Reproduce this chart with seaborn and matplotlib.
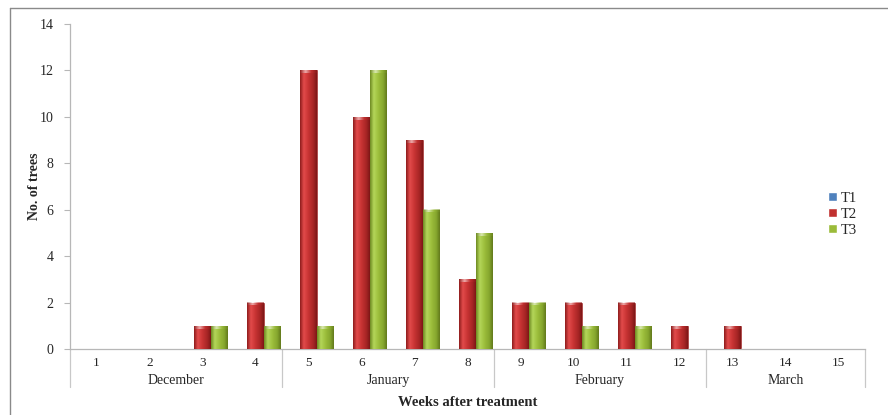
import numpy as np
import pandas as pd
import matplotlib
matplotlib.use("Agg")
import matplotlib.pyplot as plt
import seaborn as sns
from matplotlib.colors import LinearSegmentedColormap
from matplotlib.lines import Line2D
from matplotlib.transforms import blended_transform_factory

# Number of trees per week after treatment
weeks = [str(w) for w in range(1, 16)]
t1 = [0, 0, 0, 0, 0, 0, 0, 0, 0, 0, 0, 0, 0, 0, 0]
t2 = [0, 0, 1, 2, 12, 10, 9, 3, 2, 2, 2, 1, 1, 0, 0]
t3 = [0, 0, 1, 1, 1, 12, 6, 5, 2, 1, 1, 0, 0, 0, 0]
treatments = ["T1", "T2", "T3"]
months = ["December", "January", "February", "March"]
month_spans = [(1, 4), (5, 8), (9, 12), (13, 15)]

palette = {"T1": "#4F81BD", "T2": "#C0302F", "T3": "#9BBB3A"}
shades = {
    "T2": ["#8E1C1C", "#E24B4B", "#C83333", "#A52525", "#7E1616"],
    "T3": ["#6E8A22", "#B4D65A", "#9DBE3C", "#84A52D", "#62791C"],
    "T1": ["#2F5A8E", "#7AA6DA", "#4F81BD", "#3E6EA8", "#2A5080"],
}

df = pd.DataFrame({
    "week": weeks * 3,
    "count": t1 + t2 + t3,
    "treatment": ["T1"] * 15 + ["T2"] * 15 + ["T3"] * 15,
})

sns.set_style("white")
plt.rcParams["font.family"] = ["Liberation Serif", "DejaVu Serif"]

fig = plt.figure(figsize=(8.88, 4.15), dpi=100)
ax = fig.add_axes([70 / 888, 66 / 415, 795 / 888, 325 / 415])

sns.barplot(data=df, x="week", y="count", hue="treatment", order=weeks,
            hue_order=treatments, palette=palette, width=0.92, gap=0,
            saturation=1, errorbar=None, legend=True, ax=ax, zorder=2)

ax.set_xlim(-0.5, 14.5)
ax.set_ylim(0, 14)
ax.set_autoscale_on(False)

# cylinder-like shading on every bar
for container, name in zip(ax.containers, treatments):
    cmap = LinearSegmentedColormap.from_list(
        name, list(zip([0.0, 0.22, 0.5, 0.8, 1.0], shades[name])))
    grad = np.linspace(0, 1, 64).reshape(1, -1)
    for bar in container:
        h = bar.get_height()
        if h <= 0:
            continue
        x0, w = bar.get_x(), bar.get_width()
        bar.set_edgecolor(shades[name][0])
        bar.set_linewidth(0.4)
        im = ax.imshow(grad, cmap=cmap, aspect="auto", extent=(x0, x0 + w, 0, h),
                       origin="lower", zorder=3, interpolation="bilinear")
        im.set_clip_path(bar)
        cap = 0.12
        ax.imshow(np.linspace(0, 1, 64).reshape(1, -1),
                  cmap=LinearSegmentedColormap.from_list(
                      name + "c", [shades[name][0], "#FFFFFF", shades[name][2], shades[name][0]]),
                  aspect="auto", extent=(x0, x0 + w, h - cap, h), origin="lower",
                  zorder=4, alpha=0.55, interpolation="bilinear")

# axes styling
for side in ("top", "right"):
    ax.spines[side].set_visible(False)
for side in ("left", "bottom"):
    ax.spines[side].set_color("#B7B7B7")
    ax.spines[side].set_linewidth(0.9)
ax.set_yticks(range(0, 15, 2))
ax.tick_params(axis="y", direction="out", length=4, color="#B7B7B7",
               labelsize=10, pad=8, left=True)
ax.tick_params(axis="x", length=0, labelsize=9.5, pad=6)
ax.set_xticks(range(15))
ax.set_xticklabels(weeks)
ax.set_xlabel("")
ax.set_ylabel("No. of trees", fontsize=10, fontweight="bold", labelpad=-1)
ax.grid(False)

# month groups below the week numbers
trans = blended_transform_factory(ax.transData, ax.transAxes)
bounds = [-0.5, 3.5, 7.5, 11.5, 14.5]
for b in bounds:
    ax.add_line(Line2D([b, b], [0, -0.118], transform=trans, color="#C8C8C8",
                       lw=0.9, clip_on=False))
for m, (a, b) in zip(months, month_spans):
    ax.text((a + b) / 2 - 1, -0.097, m, transform=trans, ha="center", va="center",
            fontsize=10)
ax.text(0.5, -0.164, "Weeks after treatment", transform=ax.transAxes,
        ha="center", va="center", fontsize=10.5, fontweight="bold")

# legend
handles, labels = ax.get_legend_handles_labels()
ax.legend_.remove()
fig.legend(handles, labels, loc="upper left", bbox_to_anchor=(822 / 888, 1 - 186 / 415),
           frameon=False, fontsize=10.5, handlelength=0.6, handleheight=0.6,
           handletextpad=0.3, labelspacing=0.2, borderaxespad=0)

# outer frame of the chart area
fig.add_artist(Line2D([10 / 888, 10 / 888], [0, 1 - 8 / 415], color="#8A8A8A", lw=1.0))
fig.add_artist(Line2D([10 / 888, 1], [1 - 8 / 415, 1 - 8 / 415], color="#8A8A8A", lw=1.0))

fig.savefig("out.png", dpi=100)
